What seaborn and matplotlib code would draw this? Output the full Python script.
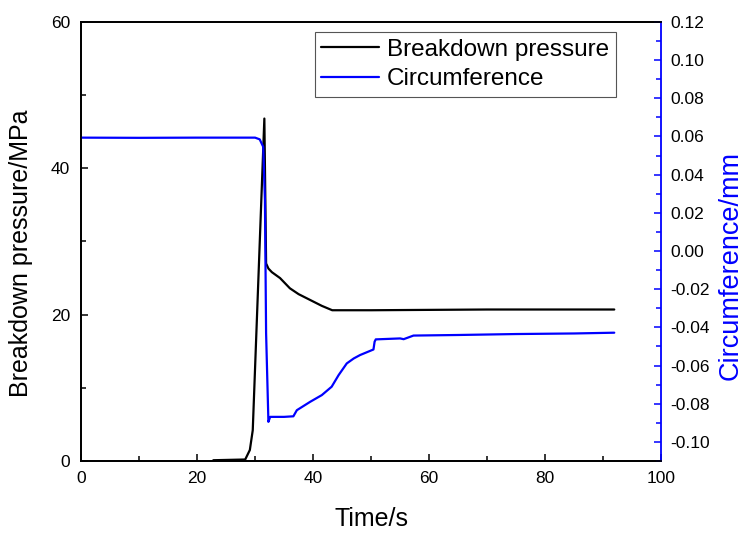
import matplotlib
matplotlib.use("Agg")
import matplotlib.pyplot as plt
import seaborn as sns
import pandas as pd
from matplotlib.ticker import MultipleLocator, FuncFormatter

# breakdown pressure (MPa) vs time (s)
time_p = [22.8, 28.3, 29.1, 29.6, 31.6, 31.9, 32.3, 32.9, 34.3, 36.0, 37.5,
          39.5, 41.5, 43.3, 50, 60, 70, 80, 91.9]
pressure = [0.1, 0.2, 1.5, 4.2, 46.8, 27.0, 26.3, 25.8, 25.0, 23.6, 22.8,
            22.0, 21.2, 20.6, 20.6, 20.65, 20.7, 20.7, 20.7]

# circumference (mm) vs time (s)
time_c = [0, 10, 20, 30.0, 30.8, 31.4, 31.7, 31.9, 32.3, 32.6, 35.0, 36.6,
          37.2, 39.5, 41.5, 43.2, 44.4, 45.8, 47.0, 48.1, 50.4, 50.6, 50.8,
          55.0, 55.6, 57.3, 65, 75, 85, 91.9]
circ = [0.0594, 0.0593, 0.0594, 0.0594, 0.0585, 0.0546, 0.0267, -0.043,
        -0.0895, -0.0869, -0.0869, -0.0866, -0.0834, -0.079, -0.0755, -0.0711,
        -0.065, -0.0589, -0.0563, -0.0545, -0.0516, -0.0475, -0.0463, -0.0458,
        -0.0462, -0.0443, -0.044, -0.0435, -0.0432, -0.0428]

df_p = pd.DataFrame({"t": time_p, "p": pressure})
df_c = pd.DataFrame({"t": time_c, "c": circ})

sns.set_style("white")
plt.rcParams['font.family'] = ['Liberation Sans', 'DejaVu Sans']
plt.rcParams['text.color'] = 'black'
plt.rcParams['axes.labelcolor'] = 'black'
plt.rcParams['xtick.color'] = 'black'
plt.rcParams['ytick.color'] = 'black'

fig = plt.figure(figsize=(7.43, 5.36), dpi=100)
ax = fig.add_axes([0.109, 0.14, 0.781, 0.819])
ax2 = ax.twinx()

sns.lineplot(data=df_p, x="t", y="p", ax=ax, color="black", lw=1.6,
             label="Breakdown pressure", legend=False)
sns.lineplot(data=df_c, x="t", y="c", ax=ax2, color="#0000ff", lw=1.6,
             label="Circumference", legend=False)

ax.set_xlim(0, 100)
ax.set_ylim(0, 60)
ax2.set_ylim(-0.11, 0.12)

ax.xaxis.set_major_locator(MultipleLocator(20))
ax.xaxis.set_minor_locator(MultipleLocator(10))
ax.yaxis.set_major_locator(MultipleLocator(20))
ax.yaxis.set_minor_locator(MultipleLocator(10))
ax2.yaxis.set_major_locator(MultipleLocator(0.02))
ax2.yaxis.set_minor_locator(MultipleLocator(0.01))
ax2.yaxis.set_major_formatter(
    FuncFormatter(lambda v, p: f"{v:.2f}".replace("-0.00", "0.00")))

ax.tick_params(axis="both", which="both", direction="in", labelsize=12.5,
               top=False, right=False, left=True, bottom=True, color="black")
ax.tick_params(which="major", length=5, width=1.1)
ax.tick_params(which="minor", length=3.5, width=1.1)
ax.tick_params(axis="y", which="both", pad=8)
ax.tick_params(axis="x", which="both", pad=7)
ax2.tick_params(axis="y", which="both", direction="in", labelsize=12.5,
                color="#0000ff", width=1.1, pad=6.5)
ax2.tick_params(which="major", length=5)
ax2.tick_params(which="minor", length=3.5)

for s in ["left", "bottom", "top"]:
    ax.spines[s].set_linewidth(1.3)
    ax.spines[s].set_color("black")
for s in ["left", "bottom", "top"]:
    ax2.spines[s].set_linewidth(1.3)
    ax2.spines[s].set_color("black")
ax.spines["right"].set_visible(False)
ax2.spines["right"].set_color("#0000ff")
ax2.spines["right"].set_linewidth(1.3)

ax.set_xlabel("Time/s", fontsize=18)
ax.xaxis.set_label_coords(0.5, -0.132)
ax.xaxis.label.set_va("center")
ax.set_ylabel("Breakdown pressure/MPa", fontsize=18)
ax.yaxis.set_label_coords(-0.103, 0.474)
ax.yaxis.label.set_va("center")
ax.yaxis.label.set_ha("center")
ax2.set_ylabel("Circumference/mm", fontsize=19.5, color="#0000ff")
ax2.yaxis.set_label_coords(1.12, 0.446)
ax2.yaxis.label.set_va("center")
ax2.yaxis.label.set_ha("center")

h1, l1 = ax.get_legend_handles_labels()
h2, l2 = ax2.get_legend_handles_labels()
leg = ax2.legend(h1 + h2, l1 + l2, loc="upper right",
                 bbox_to_anchor=(0.922, 0.977), fontsize=17.5, frameon=True,
                 fancybox=False, edgecolor="#555555", framealpha=1,
                 handlelength=2.35, handletextpad=0.35, borderpad=0.28,
                 labelspacing=0.3, borderaxespad=0)
leg.get_frame().set_linewidth(0.8)

fig.savefig("out.png", dpi=100)
